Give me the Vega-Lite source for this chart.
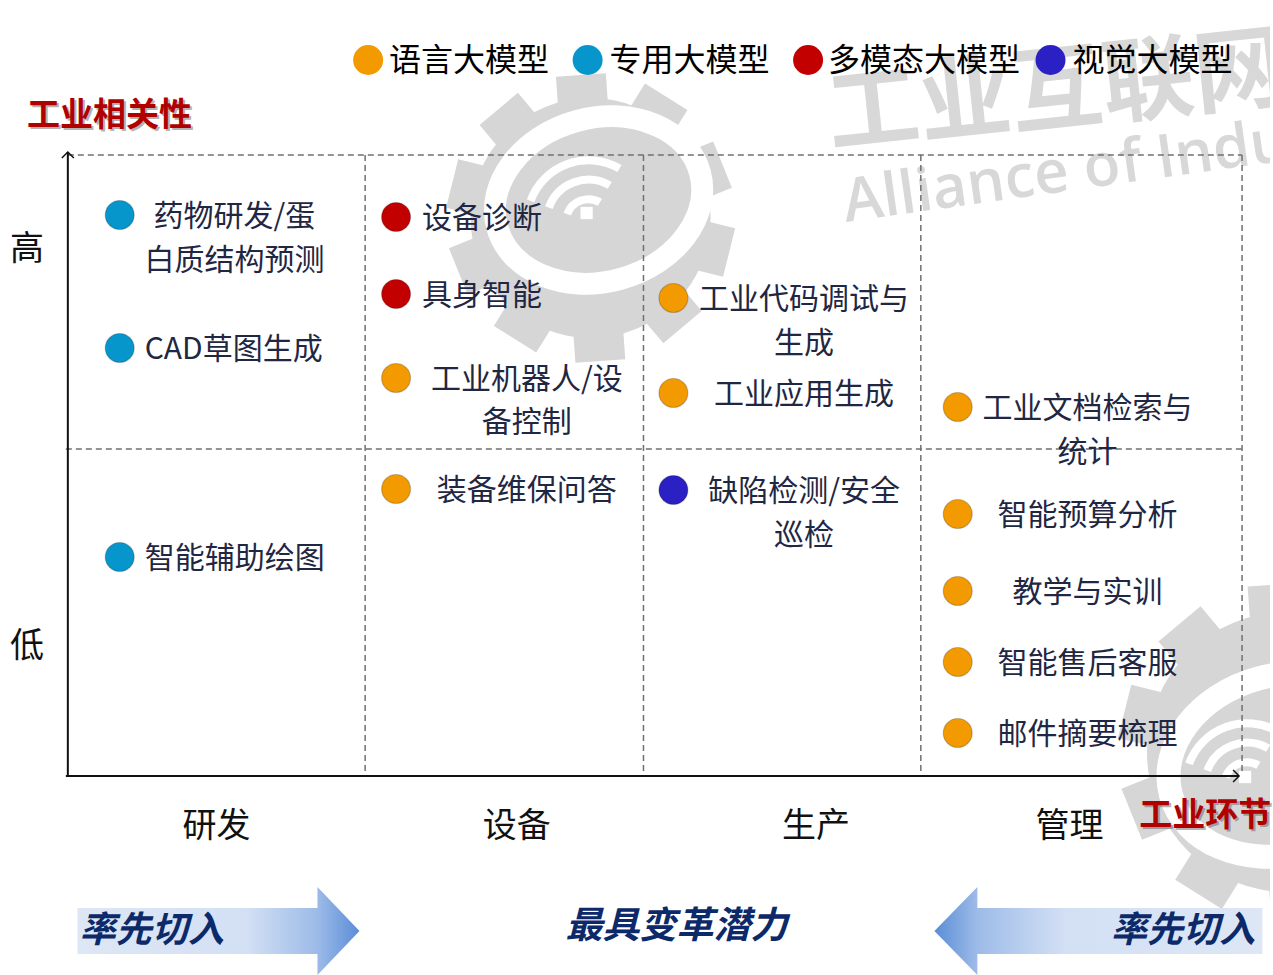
{
  "$schema": "https://vega.github.io/schema/vega-lite/v6.json",
  "width": 1273,
  "height": 975,
  "autosize": {"type": "fit", "contains": "padding"},
  "padding": 0,
  "background": "#ffffff",
  "config": {"view": {"stroke": null}, "text": {"font": "Noto Sans CJK SC"}},
  "encoding": {
    "x": {"field": "x", "type": "quantitative", "scale": {"domain": [0, 1273], "nice": false, "zero": false}, "axis": null},
    "y": {"field": "y", "type": "quantitative", "scale": {"domain": [0, 975], "nice": false, "zero": false, "reverse": true}, "axis": null}
  },
  "layer": [
    {
      "data": {"values": [{"x": 592, "y": 218}]},
      "mark": {"type": "point", "shape": "circle", "filled": true, "color": "#d6d6d6", "opacity": 1, "size": 57600, "clip": true}
    },
    {
      "data": {"values": [
        {"x": 477.5, "y": 189.5, "a": -166}, {"x": 516, "y": 128, "a": -130}, {"x": 584, "y": 100, "a": -94},
        {"x": 654.5, "y": 118, "a": -58}, {"x": 701, "y": 174, "a": -22}, {"x": 706.5, "y": 246.5, "a": 14},
        {"x": 668, "y": 308, "a": 50}, {"x": 600, "y": 336, "a": 86}, {"x": 529.5, "y": 318, "a": 122},
        {"x": 482.6, "y": 262, "a": 158}
      ]},
      "mark": {"type": "point", "shape": "square", "filled": true, "color": "#d6d6d6", "opacity": 1, "size": 2500, "clip": true},
      "encoding": {"angle": {"field": "a", "type": "quantitative", "scale": null}}
    },
    {
      "data": {"values": [{"x": 1290, "y": 752}]},
      "mark": {"type": "point", "shape": "circle", "filled": true, "color": "#d6d6d6", "opacity": 1, "size": 78400, "clip": true}
    },
    {
      "data": {"values": [
        {"x": 1154, "y": 718, "a": -166}, {"x": 1200, "y": 645, "a": -130}, {"x": 1280, "y": 612, "a": -94},
        {"x": 1216, "y": 871, "a": 122}, {"x": 1160, "y": 804, "a": 158}, {"x": 1300, "y": 892, "a": 86}
      ]},
      "mark": {"type": "point", "shape": "square", "filled": true, "color": "#d6d6d6", "opacity": 1, "size": 3025, "clip": true},
      "encoding": {"angle": {"field": "a", "type": "quantitative", "scale": null}}
    },
    {
      "data": {"values": [{"x": 600, "y": 200, "a": -15}]},
      "mark": {"type": "point", "shape": "M-1,0 A1,0.78 0 1,0 1,0 A1,0.78 0 1,0 -1,0 Z", "filled": false, "stroke": "#ffffff", "strokeWidth": 22, "opacity": 1, "size": 44100, "clip": true},
      "encoding": {"angle": {"field": "a", "type": "quantitative", "scale": null}}
    },
    {
      "data": {"values": [{"x": 1285, "y": 765, "a": -15}]},
      "mark": {"type": "point", "shape": "M-1,0 A1,0.78 0 1,0 1,0 A1,0.78 0 1,0 -1,0 Z", "filled": false, "stroke": "#ffffff", "strokeWidth": 24, "opacity": 1, "size": 52900, "clip": true},
      "encoding": {"angle": {"field": "a", "type": "quantitative", "scale": null}}
    },
    {
      "data": {"values": [{"x": 590, "y": 222}, {"x": 1250, "y": 785}]},
      "mark": {"type": "point", "shape": "M-0.893,-0.325 A0.95,0.95 0 0 1 0.475,-0.823 M-0.611,-0.222 A0.65,0.65 0 0 1 0.325,-0.563 M-0.329,-0.12 A0.35,0.35 0 0 1 0.175,-0.303", "filled": false, "stroke": "#ffffff", "strokeWidth": 8, "opacity": 1, "size": 16900, "clip": true}
    },
    {
      "data": {"values": [{"x": 588, "y": 213}, {"x": 1248, "y": 777}]},
      "mark": {"type": "point", "shape": "square", "filled": true, "color": "#ffffff", "opacity": 1, "size": 150, "clip": true}
    },
    {
      "data": {"values": [{"x": 830, "y": 118, "t": "工业互联网"}]},
      "mark": {"type": "text", "align": "left", "baseline": "middle", "fontSize": 92, "fontWeight": "bold", "color": "#d8d8d8", "angle": -6, "clip": true},
      "encoding": {"text": {"field": "t"}}
    },
    {
      "data": {"values": [{"x": 848, "y": 222, "t": "Alliance of Industrial Internet"}]},
      "mark": {"type": "text", "align": "left", "baseline": "alphabetic", "font": "Open Sans", "fontSize": 60, "fontWeight": 600, "color": "#d8d8d8", "angle": -8, "clip": true},
      "encoding": {"text": {"field": "t"}}
    },
    {
      "data": {"values": [
        {"x": 68, "x2": 1245, "y": 155, "y2": 155},
        {"x": 66, "x2": 1248, "y": 449, "y2": 449},
        {"x": 366, "x2": 366, "y": 155, "y2": 776},
        {"x": 645, "x2": 645, "y": 155, "y2": 776},
        {"x": 923, "x2": 923, "y": 155, "y2": 776},
        {"x": 1245, "x2": 1245, "y": 155, "y2": 772}
      ]},
      "mark": {"type": "rule", "color": "#707070", "strokeWidth": 1.5, "strokeDash": [6, 4]},
      "encoding": {"x2": {"field": "x2"}, "y2": {"field": "y2"}}
    },
    {
      "data": {"values": [
        {"x": 68, "x2": 68, "y": 776, "y2": 152},
        {"x": 66, "x2": 1242, "y": 776, "y2": 776}
      ]},
      "mark": {"type": "rule", "color": "#111111", "strokeWidth": 2},
      "encoding": {"x2": {"field": "x2"}, "y2": {"field": "y2"}}
    },
    {
      "data": {"values": [{"x": 68, "y": 152, "a": 0}, {"x": 1242, "y": 776, "a": 90}]},
      "mark": {"type": "point", "shape": "M-1,1 L0,0 L1,1", "filled": false, "stroke": "#111111", "strokeWidth": 1.5, "opacity": 1, "size": 144},
      "encoding": {"angle": {"field": "a", "type": "quantitative", "scale": null}}
    },
    {
      "data": {"values": [
        {"x": 369, "y": 60, "cat": "语言大模型"},
        {"x": 589, "y": 60, "cat": "专用大模型"},
        {"x": 810, "y": 60, "cat": "多模态大模型"},
        {"x": 1053, "y": 60, "cat": "视觉大模型"}
      ]},
      "mark": {"type": "point", "shape": "circle", "filled": true, "opacity": 1, "size": 900},
      "encoding": {"color": {"field": "cat", "type": "nominal", "scale": {"domain": ["语言大模型", "专用大模型", "多模态大模型", "视觉大模型"], "range": ["#f39a00", "#0796cc", "#c20000", "#2a20c4"]}, "legend": null}}
    },
    {
      "data": {"values": [
        {"x": 390, "y": 60, "t": "语言大模型"},
        {"x": 611, "y": 60, "t": "专用大模型"},
        {"x": 830, "y": 60, "t": "多模态大模型"},
        {"x": 1075, "y": 60, "t": "视觉大模型"}
      ]},
      "mark": {"type": "text", "align": "left", "baseline": "middle", "fontSize": 32, "dy": 1, "color": "#000000"},
      "encoding": {"text": {"field": "t"}}
    },
    {
      "data": {"values": [
        {"x": 120, "y": 215, "cat": "专用大模型"},
        {"x": 120, "y": 348, "cat": "专用大模型"},
        {"x": 120, "y": 557, "cat": "专用大模型"},
        {"x": 397, "y": 217, "cat": "多模态大模型"},
        {"x": 397, "y": 294, "cat": "多模态大模型"},
        {"x": 397, "y": 378, "cat": "语言大模型"},
        {"x": 397, "y": 489, "cat": "语言大模型"},
        {"x": 675, "y": 298, "cat": "语言大模型"},
        {"x": 675, "y": 393, "cat": "语言大模型"},
        {"x": 675, "y": 490, "cat": "视觉大模型"},
        {"x": 960, "y": 407, "cat": "语言大模型"},
        {"x": 960, "y": 514, "cat": "语言大模型"},
        {"x": 960, "y": 591, "cat": "语言大模型"},
        {"x": 960, "y": 662, "cat": "语言大模型"},
        {"x": 960, "y": 733, "cat": "语言大模型"}
      ]},
      "mark": {"type": "point", "shape": "circle", "filled": true, "opacity": 1, "size": 840, "stroke": "#000000", "strokeOpacity": 0.2, "strokeWidth": 1.2},
      "encoding": {"color": {"field": "cat", "type": "nominal", "scale": {"domain": ["语言大模型", "专用大模型", "多模态大模型", "视觉大模型"], "range": ["#f39a00", "#0796cc", "#c20000", "#2a20c4"]}, "legend": null}}
    },
    {
      "data": {"values": [
        {"x": 235, "y": 215, "t": "药物研发/蛋"},
        {"x": 235, "y": 259, "t": "白质结构预测"},
        {"x": 528, "y": 378, "t": "工业机器人/设"},
        {"x": 528, "y": 421, "t": "备控制"},
        {"x": 528, "y": 489, "t": "装备维保问答"},
        {"x": 806, "y": 298, "t": "工业代码调试与"},
        {"x": 806, "y": 342, "t": "生成"},
        {"x": 806, "y": 393, "t": "工业应用生成"},
        {"x": 806, "y": 490, "t": "缺陷检测/安全"},
        {"x": 806, "y": 534, "t": "巡检"},
        {"x": 1090, "y": 407, "t": "工业文档检索与"},
        {"x": 1090, "y": 451, "t": "统计"},
        {"x": 1090, "y": 514, "t": "智能预算分析"},
        {"x": 1090, "y": 591, "t": "教学与实训"},
        {"x": 1090, "y": 662, "t": "智能售后客服"},
        {"x": 1090, "y": 733, "t": "邮件摘要梳理"}
      ]},
      "mark": {"type": "text", "align": "center", "baseline": "middle", "fontSize": 30, "dy": 2, "color": "#1f2742"},
      "encoding": {"text": {"field": "t"}}
    },
    {
      "data": {"values": [
        {"x": 145, "y": 348, "t": "CAD草图生成"},
        {"x": 145, "y": 557, "t": "智能辅助绘图"},
        {"x": 423, "y": 217, "t": "设备诊断"},
        {"x": 423, "y": 294, "t": "具身智能"}
      ]},
      "mark": {"type": "text", "align": "left", "baseline": "middle", "fontSize": 30, "dy": 2, "color": "#1f2742"},
      "encoding": {"text": {"field": "t"}}
    },
    {
      "data": {"values": [
        {"x": 27, "y": 248, "t": "高"},
        {"x": 27, "y": 645, "t": "低"},
        {"x": 217, "y": 825, "t": "研发"},
        {"x": 518, "y": 825, "t": "设备"},
        {"x": 818, "y": 825, "t": "生产"},
        {"x": 1072, "y": 825, "t": "管理"}
      ]},
      "mark": {"type": "text", "align": "center", "baseline": "middle", "fontSize": 34, "dy": 2, "color": "#111111"},
      "encoding": {"text": {"field": "t"}}
    },
    {
      "data": {"values": [
        {"x": 27, "y": 115, "t": "工业相关性"},
        {"x": 1142, "y": 815, "t": "工业环节"}
      ]},
      "mark": {"type": "text", "align": "left", "baseline": "middle", "fontSize": 33, "fontWeight": "bold", "color": "#5a5a5a", "opacity": 0.45, "dx": 2, "dy": 3},
      "encoding": {"text": {"field": "t"}}
    },
    {
      "data": {"values": [
        {"x": 27, "y": 115, "t": "工业相关性"},
        {"x": 1142, "y": 815, "t": "工业环节"}
      ]},
      "mark": {"type": "text", "align": "left", "baseline": "middle", "fontSize": 33, "fontWeight": "bold", "dy": 1, "color": "#b00000"},
      "encoding": {"text": {"field": "t"}}
    },
    {
      "data": {"values": [{"x": 219, "y": 931}]},
      "mark": {
        "type": "point",
        "shape": "M-1,-0.163 L0.702,-0.163 L0.702,-0.312 L1,0 L0.702,0.312 L0.702,0.163 L-1,0.163 Z",
        "filled": true, "opacity": 1, "size": 79524, "strokeWidth": 0,
        "fill": {"gradient": "linear", "x1": 0, "y1": 0, "x2": 1, "y2": 0, "stops": [
          {"offset": 0, "color": "#dde7f5"}, {"offset": 0.6, "color": "#d3e0f4"}, {"offset": 0.85, "color": "#9dbbe8"}, {"offset": 1, "color": "#5a8dd7"}
        ]}
      }
    },
    {
      "data": {"values": [{"x": 1101, "y": 931}]},
      "mark": {
        "type": "point",
        "shape": "M1,-0.14 L-0.738,-0.14 L-0.738,-0.268 L-1,0 L-0.738,0.268 L-0.738,0.14 L1,0.14 Z",
        "filled": true, "opacity": 1, "size": 107584, "strokeWidth": 0,
        "fill": {"gradient": "linear", "x1": 0, "y1": 0, "x2": 1, "y2": 0, "stops": [
          {"offset": 0, "color": "#5a8dd7"}, {"offset": 0.13, "color": "#9dbbe8"}, {"offset": 0.4, "color": "#d3e0f4"}, {"offset": 1, "color": "#dde7f5"}
        ]}
      }
    },
    {
      "data": {"values": [{"x": 80, "y": 929, "t": "率先切入"}]},
      "mark": {"type": "text", "align": "left", "baseline": "middle", "fontSize": 36, "fontWeight": "bold", "fontStyle": "italic", "dy": 2, "color": "#0c2a6a"},
      "encoding": {"text": {"field": "t"}}
    },
    {
      "data": {"values": [{"x": 1258, "y": 929, "t": "率先切入"}]},
      "mark": {"type": "text", "align": "right", "baseline": "middle", "fontSize": 36, "fontWeight": "bold", "fontStyle": "italic", "dy": 2, "color": "#0c2a6a"},
      "encoding": {"text": {"field": "t"}}
    },
    {
      "data": {"values": [{"x": 678, "y": 925, "t": "最具变革潜力"}]},
      "mark": {"type": "text", "align": "center", "baseline": "middle", "fontSize": 37, "fontWeight": "bold", "fontStyle": "italic", "dy": 2, "color": "#0c2a6a"},
      "encoding": {"text": {"field": "t"}}
    }
  ]
}
